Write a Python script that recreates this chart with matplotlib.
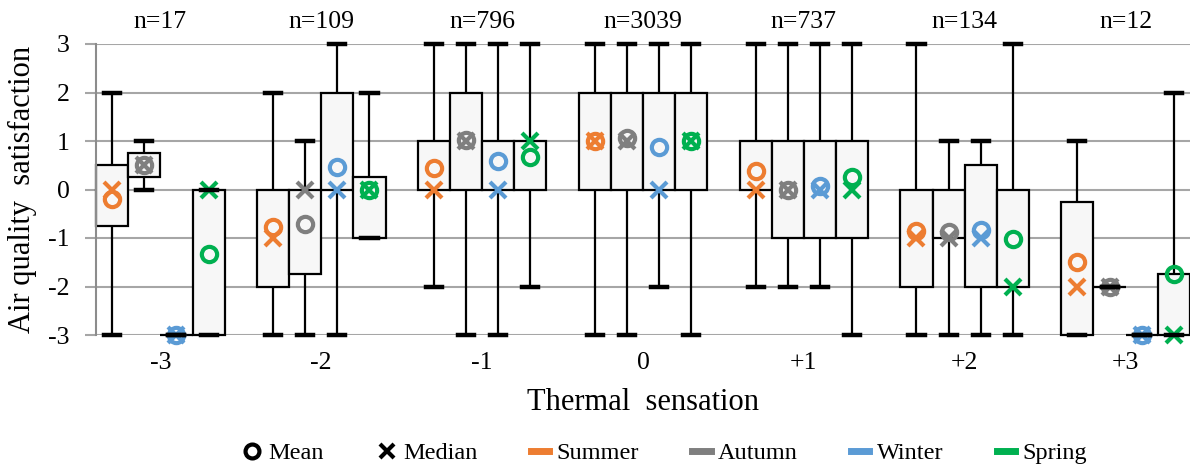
import matplotlib
matplotlib.use("Agg")
import matplotlib.pyplot as plt
from matplotlib.lines import Line2D

plt.rcParams["font.family"] = ["Liberation Serif", "DejaVu Serif"]
plt.rcParams["axes.unicode_minus"] = False

# Thermal sensation categories and sample counts
categories = ["-3", "-2", "-1", "0", "+1", "+2", "+3"]
counts = [17, 109, 796, 3039, 737, 134, 12]

seasons = ["Summer", "Autumn", "Winter", "Spring"]
season_colors = ["#ED7D31", "#7F7F7F", "#5B9BD5", "#00B050"]

# per season: lists over the 7 thermal sensation categories
q1 = {
    "Summer": [-0.75, -2, 0, 0, 0, -2, -3],
    "Autumn": [0.25, -1.75, 0, 0, -1, -1, -2],
    "Winter": [-3, 0, 0, 0, -1, -2, -3],
    "Spring": [-3, -1, 0, 0, -1, -2, -3],
}
q3 = {
    "Summer": [0.5, 0, 1, 2, 1, 0, -0.25],
    "Autumn": [0.75, 0, 2, 2, 1, 0, -2],
    "Winter": [-3, 2, 1, 2, 1, 0.5, -3],
    "Spring": [0, 0.25, 1, 2, 1, 0, -1.75],
}
whisker_lo = {
    "Summer": [-3, -3, -2, -3, -2, -3, -3],
    "Autumn": [0, -3, -3, -3, -2, -3, -2],
    "Winter": [-3, -3, -3, -2, -2, -3, -3],
    "Spring": [-3, -1, -2, -3, -3, -3, -3],
}
whisker_hi = {
    "Summer": [2, 2, 3, 3, 3, 3, 1],
    "Autumn": [1, 1, 3, 3, 3, 1, -2],
    "Winter": [-3, 3, 3, 3, 3, 1, -3],
    "Spring": [0, 2, 3, 3, 3, 3, 2],
}
medians = {
    "Summer": [0, -1, 0, 1, 0, -1, -2],
    "Autumn": [0.5, 0, 1, 1, 0, -1, -2],
    "Winter": [-3, 0, 0, 0, 0, -1, -3],
    "Spring": [0, 0, 1, 1, 0, -2, -3],
}
means = {
    "Summer": [-0.2, -0.78, 0.45, 0.99, 0.38, -0.85, -1.5],
    "Autumn": [0.5, -0.72, 1.03, 1.07, 0.0, -0.88, -2.0],
    "Winter": [-3.0, 0.46, 0.58, 0.87, 0.08, -0.83, -3.0],
    "Spring": [-1.34, 0.0, 0.67, 1.0, 0.25, -1.02, -1.75],
}

box_w = 0.2
offsets = [-1.5 * box_w, -0.5 * box_w, 0.5 * box_w, 1.5 * box_w]

fig = plt.figure(figsize=(11.9, 4.66), dpi=100)
ax = fig.add_axes([96 / 1190, 131 / 466, 1094 / 1190, 291 / 466])

grid_c = "#a6a6a6"
for y in range(-3, 4):
    ax.axhline(y, color=grid_c, lw=1.5, zorder=0)

for s, season in enumerate(seasons):
    stats = []
    for i in range(len(categories)):
        stats.append(dict(med=medians[season][i], q1=q1[season][i], q3=q3[season][i],
                          whislo=whisker_lo[season][i], whishi=whisker_hi[season][i],
                          mean=means[season][i], fliers=[]))
    pos = [i + offsets[s] for i in range(len(categories))]
    parts = ax.bxp(stats, positions=pos, widths=box_w, patch_artist=True,
                   showfliers=False, showmeans=False, capwidths=0.1,
                   boxprops=dict(facecolor="#f7f7f7", edgecolor="black", linewidth=1.6),
                   whiskerprops=dict(color="black", linewidth=1.6),
                   capprops=dict(color="black", linewidth=3.2),
                   medianprops=dict(linewidth=0))
    for art in parts["boxes"]:
        art.set_clip_on(False)
        art.set_zorder(2)
    for art in parts["whiskers"]:
        art.set_zorder(1.5)
    # mean circles and median crosses
    ax.plot(pos, means[season], linestyle="none", marker="o", markersize=11,
            markerfacecolor="none", markeredgecolor=season_colors[s],
            markeredgewidth=3, zorder=3, clip_on=False)
    ax.plot(pos, medians[season], linestyle="none", marker="x", markersize=12,
            color=season_colors[s], markeredgewidth=3, zorder=3, clip_on=False)
    for art in parts["caps"]:
        art.set_zorder(4)
        art.set_clip_on(False)

for i, n in enumerate(counts):
    ax.text(i, 3.22, "n=%d" % n, ha="center", va="bottom", fontsize=18.5)

ax.set_xlim(-0.4, 6.4)
ax.set_ylim(-3, 3)
ax.set_yticks(range(-3, 4))
ax.set_xticks(range(len(categories)))
ax.set_xticklabels(categories)
ax.tick_params(axis="y", labelsize=18.5, length=8, width=1.5, color=grid_c, pad=11)
ax.tick_params(axis="x", labelsize=18.5, length=0, pad=12)
for side in ["top", "right", "bottom"]:
    ax.spines[side].set_visible(False)
ax.spines["left"].set_color("#8c8c8c")
ax.spines["left"].set_linewidth(1.5)

ax.set_xlabel("Thermal  sensation", fontsize=22, labelpad=10)
ax.set_ylabel("Air quality  satisfaction", fontsize=22, labelpad=8)

handles = [
    Line2D([], [], linestyle="none", marker="o", markersize=10, markerfacecolor="none",
           markeredgecolor="black", markeredgewidth=3),
    Line2D([], [], linestyle="none", marker="x", markersize=10, color="black",
           markeredgewidth=3),
]
labels = ["Mean", "Median"]
for s, season in enumerate(seasons):
    handles.append(Line2D([], [], color=season_colors[s], linewidth=5))
    labels.append(season)
fig.legend(handles, labels, loc="center", bbox_to_anchor=(665 / 1190, 1 - 453 / 466),
           ncol=6, frameon=False, fontsize=17.5, handlelength=0.75, handletextpad=0.3,
           columnspacing=2.2)

fig.savefig("out.png", dpi=100)
